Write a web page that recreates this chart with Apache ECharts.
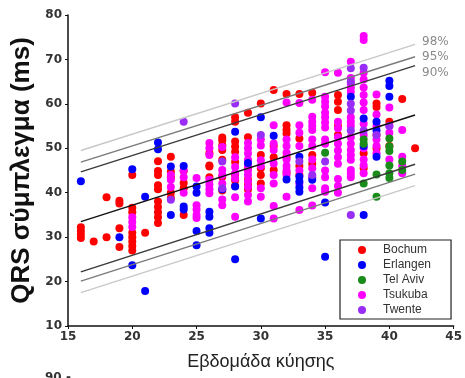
<!DOCTYPE html>
<html><head><meta charset="utf-8">
<script src="https://cdn.jsdelivr.net/npm/echarts@6/dist/echarts.min.js"></script>
<style>html,body{margin:0;padding:0;background:#fff}#c{width:465px;height:378px}</style>
</head><body><div id="c"></div>
<script>
const seriesNames = ['Bochum','Erlangen','Tel Aviv','Tsukuba','Twente'];
const bochum = [
[16,29.8],[16,30.6],[16,31.4],[16,32.2],[17,29],[18,39],[18,30],
[19,38.2],[19,37.6],[19,32],[19,27.8],
[20,44],[20,36.6],[20,35.6],[20,31],[20,30],[20,29],[20,28],[20,27],
[21,31],
[22,47.1],[22,44.9],[22,44],[22,41.7],[22,40.8],[22,38],[22,36.8],[22,35.6],[22,34.5],[22,33.2],
[23,48.1],[23,44.7],[23,43.5],[23,40],[23,38.8],
[24,44.9],[24,42.2],[24,41],[24,35],
[26,48.9],[26,46.1],[26,45.9],[26,43.5],
[27,52.4],[27,51.8],[27,50.7],[27,49.6],[27,47.4],[27,43.6],[27,40.5],
[28,57],[28,56],[28,51.5],[28,50.4],[28,49.2],[28,46.9],[28,44],[28,42.8],[28,41.5],
[29,58],[29,52.5],[29,45.5],[29,42.9],[29,41.8],[29,40.8],
[30,60.1],[30,48.5],[30,45.5],[30,44],[30,42.1],
[31,63.1],[31,50.5],[31,48],[31,45.1],
[32,62.2],[32,55.2],[32,54.2],[32,53.3],[32,48],[32,44.5],
[33,62.2],[33,52.2],[33,46],[33,44],
[34,62.5],[34,48.5],[34,46.5],
[36,62],[36,60.5],[36,58.6],[36,55],[36,53],
[38,48.9],[38,45.5],
[39,60.1],[39,59.3],[39,53],[39,50],
[40,56],[40,50.5],[41,61.1],[42,50]
];
const erlangen = [
[16,42.6],[19,30],[20,45.3],[20,23.7],[21,39.1],[21,17.9],[22,51.3],[22,49.8],
[23,45.9],[23,35],[24,46],[24,36.9],[24,36.2],[25,41.4],[25,40],[25,31.4],[25,28.2],
[26,35.7],[26,34.6],[26,32],[26,31],[27,40.8],[28,53.7],[28,41.4],[28,25],[29,46.7],
[30,57],[30,34.2],[31,52.8],[32,43],[33,48.1],[33,43.6],[33,42.5],[33,41.2],[33,40.2],
[34,42.9],[35,37.8],[35,25.6],[37,61.6],[38,56.7],[38,50.5],[38,35],[39,56],[39,54],
[39,48.1],[40,65.2],[40,64],[40,61.6]
];
const telAviv = [
[35,49],[38,52],[38,51],[38,42.1],[39,44.1],[39,39.1],[40,52.2],[40,50.4],[40,49.4],
[40,46.1],[40,44.4],[40,43.3],[41,47],[41,45.1]
];
const tsukuba = [
[20,34.5],[20,33.4],[20,32.3],
[23,42.9],[23,41.3],[23,44],[24,45],[24,43.5],[24,40],
[25,43.3],[25,37.2],[25,36.2],[25,35],[25,34.3],
[26,51.2],[26,50],[26,48.5],[26,42.9],[26,41.8],[26,40.8],[26,39.9],
[27,50.3],[27,45.1],[27,44],[27,42.1],[27,38.5],[27,37.2],
[28,48],[28,45.8],[28,44.4],[28,43.2],[28,39],[28,34.6],
[29,51.2],[29,50],[29,48.8],[29,47.4],[29,46],[29,45],[29,44],[29,42.5],[29,41.3],[29,39.5],[29,38],
[30,52],[30,50.6],[30,47.3],[30,46],[30,41],[30,39.1],
[31,55.2],[31,51.1],[31,49.6],[31,46.6],[31,44],[31,42.1],[31,37],[31,34.2],
[32,60.3],[32,52],[32,50.5],[32,49],[32,47.5],[32,46],[32,45],[32,44],[32,39.1],
[33,60.2],[33,55.2],[33,53.5],[33,50.5],[33,45],[33,42],[33,36.1],
[34,60.9],[34,57.1],[34,56],[34,55],[34,54.1],[34,52],[34,50.5],[34,47.5],[34,45.5],[34,43.5],[34,41],[34,37.1],
[35,67.1],[35,61.6],[35,60.5],[35,59.4],[35,58],[35,57],[35,55.8],[35,54.7],[35,52],[35,51],[35,45],[35,43.5],[35,41],[35,40.2],
[36,67],[36,56],[36,54.5],[36,52.5],[36,51],[36,49.5],[36,48],[36,46.5],[36,43.1],[36,41.5],[36,40],
[37,69.5],[37,65.8],[37,64.7],[37,63.7],[37,62.7],[37,57],[37,56],[37,55],[37,52.5],[37,51],[37,49.6],[37,48.5],[37,47.4],[37,45.1],[37,44.3],[37,43.5],
[38,75.3],[38,74.4],[38,67],[38,65.5],[38,63.7],[38,62],[38,60.3],[38,58.6],[38,55.5],[38,53],[38,50],[38,47.5],[38,46.2],[38,44.4],
[39,62.1],[39,57.6],[39,55],[39,52],[39,50.5],[39,48.9],
[40,59.2],[40,55],[40,53.5],[40,47.5],
[41,54.1],[41,48.1],[41,46],[41,44.4]
];
const twente = [
[23,38.4],[24,56],[27,47],[27,41],[28,60.1],[30,53],[33,47],[34,44],[35,47],
[37,68],[37,65],[37,60],[37,58.5],[37,54],[37,35],[38,68.1],[38,54],[39,53],[40,55]
];
const lineWeeks = [16, 42];
const meanLine = [33.5, 57.5];
const p90Upper = [44.7, 68.6];
const p90Lower = [22.2, 46.4];
const p95Upper = [46.9, 70.6];
const p95Lower = [20.1, 44.2];
const p98Upper = [49.5, 73.4];
const p98Lower = [17.5, 41.6];

const pair = arr => lineWeeks.map((w, i) => [w, arr[i]]);
function refLine(arr, color, label, dy) {
  const s = {type:'line', data: pair(arr), symbol:'none', silent:true, z:5,
    lineStyle:{color:color, width:1.4}, animation:false};
  if (label) s.endLabel = {show:true, formatter: label, color:'#8a8a8a', fontSize:12,
    fontFamily:'DejaVu Sans', distance:7, offset:[0, dy]};
  return s;
}
function pts(name, data, color, z) {
  return {name:name, type:'scatter', data:data, symbol:'circle', symbolSize:8,
    itemStyle:{color:color, opacity:1}, z:z, animation:false};
}
const chart = echarts.init(document.getElementById('c'));
chart.setOption({
  animation:false,
  grid:{left:68, right:8, top:15, bottom:52},
  xAxis:{type:'value', min:15, max:45, interval:5,
    name:'Εβδομάδα κύησης', nameLocation:'middle', nameGap:27,
    nameTextStyle:{fontSize:18, color:'#222', fontFamily:'Liberation Sans'},
    axisLine:{lineStyle:{color:'#111', width:1.5}},
    axisTick:{show:true, length:3, lineStyle:{color:'#111'}},
    axisLabel:{fontSize:12, fontWeight:'bold', color:'#333', fontFamily:'DejaVu Sans', margin:5},
    splitLine:{show:false}},
  yAxis:{type:'value', min:10, max:80, interval:10,
    name:'QRS σύμπλεγμα (ms)', nameLocation:'middle', nameGap:28,
    nameTextStyle:{fontSize:26, fontWeight:'bold', color:'#111', fontFamily:'Liberation Sans', padding:[0,0,0,0]},
    axisLine:{show:true, lineStyle:{color:'#111', width:1.5}},
    axisTick:{show:true, length:3, lineStyle:{color:'#111'}},
    axisLabel:{fontSize:12, fontWeight:'bold', color:'#333', fontFamily:'DejaVu Sans', margin:6},
    splitLine:{show:false}},
  legend:{data: seriesNames, orient:'vertical', left:340, top:240,
    icon:'circle', itemWidth:8, itemHeight:8, itemGap:1,
    borderColor:'#222', borderWidth:1.2, borderRadius:0, padding:[3,20,2,18],
    textStyle:{fontSize:12, color:'#333', fontFamily:'Liberation Sans', lineHeight:14, padding:[0,0,0,12]}},
  graphic:[{type:'text', left:45, top:372, style:{text:'90 -', font:'bold 12px "DejaVu Sans"', fill:'#333'}}],
  series:[
    pts('Bochum', bochum, '#ff0000', 2),
    pts('Tsukuba', tsukuba, '#ff00ff', 2),
    pts('Erlangen', erlangen, '#0000ff', 2),
    pts('Twente', twente, '#9a2df5', 2),
    pts('Tel Aviv', telAviv, '#1a8c1a', 2),
    refLine(p98Upper, '#c8c8c8', '98%', -2),
    refLine(p98Lower, '#c8c8c8'),
    refLine(p95Upper, '#7a7a7a', '95%', 0),
    refLine(p95Lower, '#7a7a7a'),
    refLine(p90Upper, '#3a3a3a', '90%', 7),
    refLine(p90Lower, '#3a3a3a'),
    refLine(meanLine, '#111111')
  ]
});
</script></body></html>
